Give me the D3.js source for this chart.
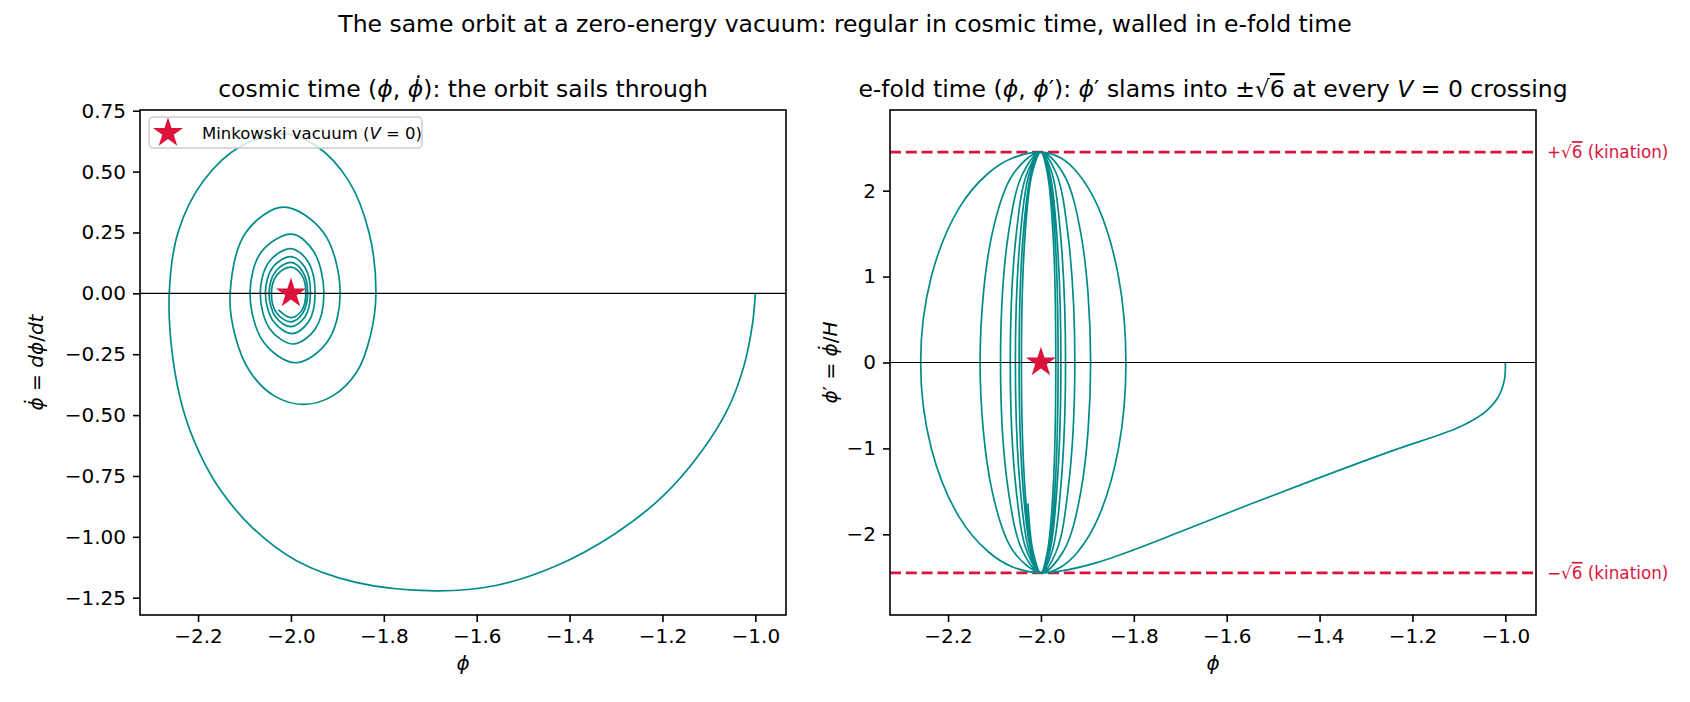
<!DOCTYPE html>
<html>
<head>
<meta charset="utf-8">
<script src="https://d3js.org/d3.v7.min.js"></script>
<style>
  body { margin: 0; background: #fff; }
  svg { display: block; }
</style>
</head>
<body>
<svg id="chart" width="1690" height="702"></svg>
<script>
// ---- values ----
var xTicks = [-2.2, -2.0, -1.8, -1.6, -1.4, -1.2, -1.0]
var yTicksCosmic = [-1.25, -1.0, -0.75, -0.5, -0.25, 0, 0.25, 0.5, 0.75]
var yTicksEfold = [-2, -1, 0, 1, 2]
var xLim = [-2.325, -0.934]
var yLimCosmic = [-1.321, 0.753]
var yLimEfold = [-2.939, 2.939]
var vacuum = [-2.0, 0.0]
var kination = 2.449 // sqrt(6)

// cosmic time: (phi, dphi/dt)
var cosmicBranch = [
  [-1.000, 0.000], [-1.006, -0.123], [-1.025, -0.301], [-1.060, -0.478], [-1.118, -0.655],
  [-1.199, -0.833], [-1.303, -0.988], [-1.431, -1.121], [-1.559, -1.200], [-1.689, -1.222],
  [-1.860, -1.187], [-1.988, -1.098], [-2.081, -0.966], [-2.151, -0.810], [-2.197, -0.655],
  [-2.232, -0.478], [-2.255, -0.256], [-2.262, 0.000]
]
var cosmicLoops = [
  [-2.243, 0.251], [-2.188, 0.463], [-2.107, 0.605], [-2.012, 0.655], [-1.945, 0.605], [-1.876, 0.463],
  [-1.832, 0.251], [-1.817, 0.000],
  [-1.829, -0.175], [-1.858, -0.322], [-1.910, -0.421], [-1.973, -0.456], [-2.036, -0.421], [-2.088, -0.322],
  [-2.120, -0.175], [-2.131, 0.000],
  [-2.097, 0.250], [-2.016, 0.354], [-1.930, 0.250], [-1.894, 0.000],
  [-1.922, -0.200], [-1.990, -0.285], [-2.059, -0.200], [-2.088, 0.000],
  [-2.063, 0.172], [-1.998, 0.243], [-1.951, 0.172], [-1.929, 0.000],
  [-1.948, -0.147], [-1.995, -0.208], [-2.045, -0.147], [-2.066, 0.000],
  [-2.047, 0.130], [-2.000, 0.184], [-1.963, 0.130], [-1.948, 0.000],
  [-1.962, -0.117], [-1.997, -0.165], [-2.037, -0.117], [-2.055, 0.000],
  [-2.039, 0.107], [-2.000, 0.151], [-1.970, 0.107], [-1.958, 0.000],
  [-1.970, -0.097], [-2.000, -0.137], [-2.033, -0.097], [-2.047, 0.000],
  [-2.033, 0.090], [-2.000, 0.127], [-1.975, 0.090], [-1.964, 0.000],
  [-1.975, -0.083], [-2.000, -0.117], [-2.030, -0.083], [-2.042, 0.000],
  [-2.030, 0.076], [-2.000, 0.108], [-1.977, 0.076], [-1.968, 0.000],
  [-1.977, -0.071], [-2.000, -0.100], [-2.027, -0.068]
]

// e-fold time: (phi, phi')
var efoldBranch = [
  [-1.000, 0.00], [-1.002, -0.20], [-1.015, -0.40], [-1.040, -0.56], [-1.076, -0.69],
  [-1.111, -0.78], [-1.250, -1.04], [-1.400, -1.34], [-1.550, -1.65], [-1.700, -1.97],
  [-1.800, -2.18], [-1.880, -2.33], [-1.940, -2.41], [-2.000, -2.449]
]
var efoldLoops = [
  [-2.061, -2.38], [-2.114, -2.2], [-2.176, -1.8], [-2.236, -1.0], [-2.259, 0],
  [-2.236, 1.0], [-2.176, 1.8], [-2.114, 2.2], [-2.061, 2.38], [-2.000, 2.449],
  [-1.957, 2.38], [-1.920, 2.2], [-1.876, 1.8], [-1.833, 1.0], [-1.817, 0],
  [-1.833, -1.0], [-1.876, -1.8], [-1.920, -2.2], [-1.957, -2.38], [-2.000, -2.449],
  [-2.059, -2.2], [-2.105, -1.5], [-2.131, 0], [-2.105, 1.5], [-2.059, 2.2], [-2.000, 2.449],
  [-1.952, 2.2], [-1.914, 1.5], [-1.893, 0], [-1.914, -1.5], [-1.952, -2.2], [-2.000, -2.449],
  [-2.039, -2.2], [-2.070, -1.5], [-2.087, 0], [-2.070, 1.5], [-2.039, 2.2], [-2.000, 2.449],
  [-1.967, 2.2], [-1.942, 1.5], [-1.927, 0], [-1.942, -1.5], [-1.967, -2.2], [-2.000, -2.449],
  [-2.030, -2.2], [-2.053, -1.5], [-2.066, 0], [-2.053, 1.5], [-2.030, 2.2], [-2.000, 2.449],
  [-1.976, 2.2], [-1.958, 1.5], [-1.947, 0], [-1.958, -1.5], [-1.976, -2.2], [-2.000, -2.449],
  [-2.025, -2.2], [-2.044, -1.5], [-2.055, 0], [-2.044, 1.5], [-2.025, 2.2], [-2.000, 2.449],
  [-1.981, 2.2], [-1.966, 1.5], [-1.957, 0], [-1.966, -1.5], [-1.981, -2.2], [-2.000, -2.449],
  [-2.021, -2.2], [-2.038, -1.5], [-2.047, 0], [-2.038, 1.5], [-2.021, 2.2], [-2.000, 2.449],
  [-1.983, 2.2], [-1.970, 1.5], [-1.963, 0], [-1.970, -1.5], [-1.983, -2.2], [-2.000, -2.449],
  [-2.019, -2.2], [-2.034, -1.5], [-2.042, 0], [-2.034, 1.5], [-2.019, 2.2], [-2.000, 2.449],
  [-1.986, 2.2], [-1.974, 1.5], [-1.968, 0], [-1.974, -1.5], [-1.986, -2.2], [-2.000, -2.449],
  [-2.017, -2.2], [-2.028, -1.64]
]

// ---- drawing ----
var font = "'DejaVu Sans', sans-serif"
var teal = "#008b8b"
var red = "#dc143c"
var svg = d3.select("#chart").attr("font-family", font)
var starSize = 280

function panel(box, yLim, yTicks, yFmt) {
  var x = d3.scaleLinear().domain(xLim).range([box.x0, box.x1])
  var y = d3.scaleLinear().domain(yLim).range([box.y1, box.y0])
  var g = svg.append("g")
  var ax = g.append("g").attr("transform", "translate(0," + box.y1 + ")")
    .call(d3.axisBottom(x).tickValues(xTicks).tickFormat(d3.format(".1f")).tickSize(7).tickPadding(7).tickSizeOuter(0))
  var ay = g.append("g").attr("transform", "translate(" + box.x0 + ",0)")
    .call(d3.axisLeft(y).tickValues(yTicks).tickFormat(d3.format(yFmt)).tickSize(7).tickPadding(7).tickSizeOuter(0))
  ;[ax, ay].forEach(function (a) {
    a.attr("font-family", font).attr("font-size", 20)
    a.select(".domain").remove()
    a.selectAll("line").attr("stroke", "#000").attr("stroke-width", 1.6)
    a.selectAll("text").attr("fill", "#000")
  })
  return { g: g, x: x, y: y, box: box }
}

function spine(p) {
  p.g.append("rect").attr("x", p.box.x0).attr("y", p.box.y0)
    .attr("width", p.box.x1 - p.box.x0).attr("height", p.box.y1 - p.box.y0)
    .attr("fill", "none").attr("stroke", "#000").attr("stroke-width", 1.6)
}

function orbit(p, pts) {
  var line = d3.line().x(function (d) { return p.x(d[0]) }).y(function (d) { return p.y(d[1]) })
    .curve(d3.curveCatmullRom.alpha(0.5))
  p.g.append("path").datum(pts).attr("d", line)
    .attr("fill", "none").attr("stroke", teal).attr("stroke-width", 1.7)
}

function zeroLine(p) {
  p.g.append("line").attr("x1", p.box.x0).attr("x2", p.box.x1)
    .attr("y1", p.y(0)).attr("y2", p.y(0)).attr("stroke", "#000").attr("stroke-width", 1.1)
}

function star(p) {
  p.g.append("path").attr("d", d3.symbol(d3.symbolStar, starSize))
    .attr("transform", "translate(" + p.x(vacuum[0]) + "," + p.y(vacuum[1]) + ")")
    .attr("fill", red)
}

// write a label made of pieces: [text, italic?, extra styles]
function rich(sel, parts) {
  parts.forEach(function (pt) {
    var t = sel.append("tspan").text(pt[0])
    if (pt[1]) t.attr("font-style", "italic")
    if (pt[2]) for (var k in pt[2]) t.style(k, pt[2][k])
  })
  return sel
}

// suptitle
svg.append("text").attr("x", 845).attr("y", 32).attr("text-anchor", "middle").attr("font-size", 23.5)
  .text("The same orbit at a zero-energy vacuum: regular in cosmic time, walled in e-fold time")

// ---- left panel: cosmic time ----
var L = panel({ x0: 140, x1: 786, y0: 110, y1: 615 }, yLimCosmic, yTicksCosmic, ".2f")
orbit(L, cosmicBranch.concat(cosmicLoops))
zeroLine(L)
star(L)
spine(L)

rich(L.g.append("text").attr("x", 463).attr("y", 97).attr("text-anchor", "middle").attr("font-size", 23.5),
  [["cosmic time ("], ["\u03d5", true], [", "], ["\u03d5\u0307", true], ["): the orbit sails through"]])
rich(L.g.append("text").attr("x", 463).attr("y", 670).attr("text-anchor", "middle").attr("font-size", 20),
  [["\u03d5", true]])
rich(L.g.append("text").attr("transform", "translate(43,362.5) rotate(-90)").attr("text-anchor", "middle").attr("font-size", 20),
  [["\u03d5\u0307", true], [" = "], ["d\u03d5", true], ["/"], ["dt", true]])

// legend
var lg = L.g.append("g")
lg.append("rect").attr("x", 149).attr("y", 117).attr("width", 273).attr("height", 31).attr("rx", 4)
  .attr("fill", "#fff").attr("fill-opacity", 0.8).attr("stroke", "#cccccc").attr("stroke-width", 1.5)
lg.append("path").attr("d", d3.symbol(d3.symbolStar, starSize)).attr("transform", "translate(168,133)").attr("fill", red)
rich(lg.append("text").attr("x", 202).attr("y", 139).attr("font-size", 16.5),
  [["Minkowski vacuum ("], ["V", true], [" = 0)"]])

// ---- right panel: e-fold time ----
var R = panel({ x0: 890, x1: 1536, y0: 110, y1: 615 }, yLimEfold, yTicksEfold, "d")
;[kination, -kination].forEach(function (v) {
  R.g.append("line").attr("x1", R.box.x0).attr("x2", R.box.x1).attr("y1", R.y(v)).attr("y2", R.y(v))
    .attr("stroke", red).attr("stroke-width", 2.6).attr("stroke-dasharray", "11,4.8")
})
orbit(R, efoldBranch.concat(efoldLoops))
zeroLine(R)
star(R)
spine(R)

;[[kination, "+"], [-kination, "\u2212"]].forEach(function (k) {
  rich(R.g.append("text").attr("x", 1547).attr("y", R.y(k[0]) + 6).attr("font-size", 16.8).attr("fill", red),
    [[k[1] + "\u221a"], ["6", false, { "text-decoration": "overline" }], [" (kination)"]])
})

rich(R.g.append("text").attr("x", 1213).attr("y", 97).attr("text-anchor", "middle").attr("font-size", 23.5),
  [["e-fold time ("], ["\u03d5", true], [", "], ["\u03d5", true], ["\u2032"], ["): "], ["\u03d5", true], ["\u2032"],
   [" slams into \u00b1\u221a"], ["6", false, { "text-decoration": "overline" }], [" at every "], ["V", true], [" = 0 crossing"]])
rich(R.g.append("text").attr("x", 1213).attr("y", 670).attr("text-anchor", "middle").attr("font-size", 20),
  [["\u03d5", true]])
rich(R.g.append("text").attr("transform", "translate(837,362.5) rotate(-90)").attr("text-anchor", "middle").attr("font-size", 20),
  [["\u03d5", true], ["\u2032"], [" = "], ["\u03d5\u0307", true], ["/"], ["H", true]])
</script>
</body>
</html>
